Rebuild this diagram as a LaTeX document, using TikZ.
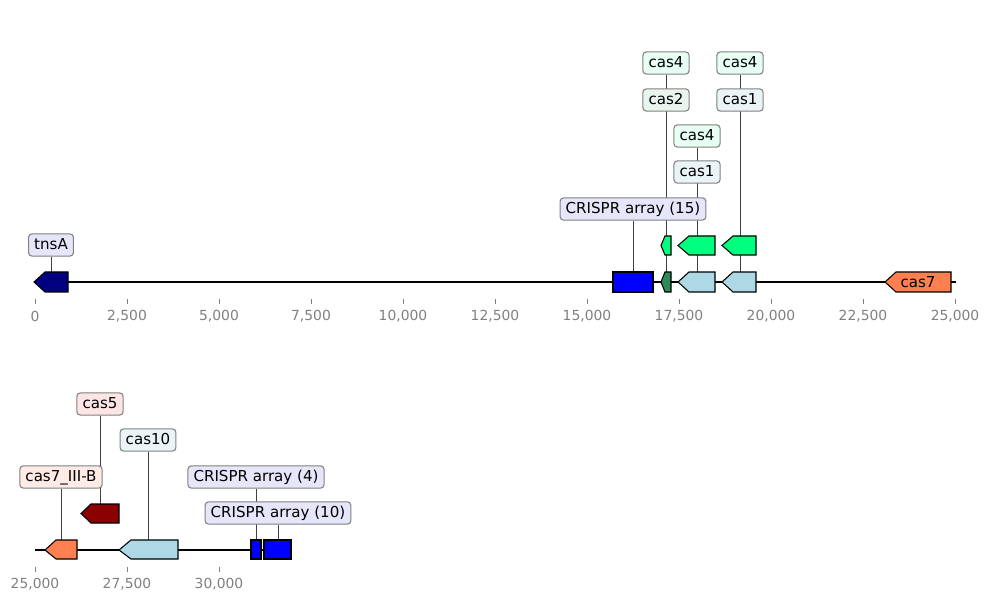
\documentclass[tikz,border=0pt]{standalone}
\usepackage{fontspec}
\setmainfont{DejaVu Sans}
\usetikzlibrary{backgrounds}
\definecolor{navyf}{HTML}{000080}
\definecolor{bluef}{HTML}{0000FF}
\definecolor{seaf}{HTML}{2E8B57}
\definecolor{lbluef}{HTML}{ADD8E6}
\definecolor{springf}{HTML}{00FF7F}
\definecolor{coralf}{HTML}{FF7F50}
\definecolor{redf}{HTML}{8B0000}
\definecolor{boxnavy}{HTML}{E6E6FA}
\definecolor{boxspring}{HTML}{E6FFF2}
\definecolor{boxsea}{HTML}{E9F4EE}
\definecolor{boxlblue}{HTML}{EAF4F7}
\definecolor{boxcoral}{HTML}{FFEBE5}
\definecolor{boxred}{HTML}{FDE5E5}

\begin{document}
\begin{tikzpicture}[x=0.75pt, y=0.75pt, yscale=-1,
    font=\fontsize{11.3}{13}\selectfont,
    feat/.style={draw=black, line width=0.8pt, line join=miter},
    lbl/.style={draw=gray, rounded corners=2.5pt, line width=0.8pt, inner xsep=4.2pt, inner ysep=3pt, text height=8.4pt, text depth=2.2pt},
    leader/.style={draw=black!75, line width=0.6pt},
    tickmark/.style={draw=gray, line width=0.6pt},
    ticklbl/.style={text=gray, font=\fontsize{10.4}{12}\selectfont}]
    \useasboundingbox (0,0) rectangle (989,602);

    % top track
    \draw [line width=1.5pt] (35,282) -- (956,282);
    \foreach \i/\t in {0/0, 1/{2,500}, 2/{5,000}, 3/{7,500}, 4/{10,000}, 5/{12,500}, 6/{15,000}, 7/{17,500}, 8/{20,000}, 9/{22,500}, 10/{25,000}} {
        \draw [tickmark] (35+92*\i,299) -- (35+92*\i,304) ;
        \node [ticklbl] (tt\i) at (35+92*\i,316) {\t} ;
    }

    \coordinate (tnsA) at (51,272);
    \coordinate (crA) at (633,272);
    \coordinate (casD) at (666,272);
    \coordinate (casE) at (666,236);
    \coordinate (casF) at (697,272);
    \coordinate (casG) at (697,236);
    \coordinate (casH) at (740,272);
    \coordinate (casI) at (740,236);

    \node [lbl, fill=boxnavy] (tnsAlbl) at (51,245) {tnsA} ;
    \node [lbl, fill=boxnavy] (crAlbl) at (633,209) {CRISPR array (15)} ;
    \node [lbl, fill=boxlblue] (casFlbl) at (697,172) {cas1} ;
    \node [lbl, fill=boxspring] (casGlbl) at (697,136) {cas4} ;
    \node [lbl, fill=boxsea] (casDlbl) at (666,100) {cas2} ;
    \node [lbl, fill=boxspring] (casElbl) at (666,63) {cas4} ;
    \node [lbl, fill=boxlblue] (casHlbl) at (740,100) {cas1} ;
    \node [lbl, fill=boxspring] (casIlbl) at (740,63) {cas4} ;

    \begin{scope}[on background layer]
    \draw [leader] (tnsAlbl) -- (tnsA) ;
    \draw [leader] (crAlbl) -- (crA) ;
    \draw [leader] (casDlbl) -- (casD) ;
    \draw [leader] (casElbl) -- (casE) ;
    \draw [leader] (casFlbl) -- (casF) ;
    \draw [leader] (casGlbl) -- (casG) ;
    \draw [leader] (casHlbl) -- (casH) ;
    \draw [leader] (casIlbl) -- (casI) ;
    \end{scope}

    \draw [feat, fill=navyf] (34,282) -- (45,272) -- (68,272) -- (68,292) -- (45,292) -- cycle ;
    \draw [feat, fill=bluef] (613,272) rectangle (653,292) ;
    \draw [feat, fill=seaf] (661,282) -- (665,272) -- (671,272) -- (671,292) -- (665,292) -- cycle ;
    \draw [feat, fill=lbluef] (678,282) -- (689,272) -- (715,272) -- (715,292) -- (689,292) -- cycle ;
    \draw [feat, fill=lbluef] (722,282) -- (733,272) -- (756,272) -- (756,292) -- (733,292) -- cycle ;
    \draw [feat, fill=coralf] (885,282) -- (896,272) -- (951,272) -- (951,292) -- (896,292) -- cycle ;
    \node (cas7) at (918,282) {cas7} ;
    \draw [feat, fill=springf] (661,245.5) -- (665,236) -- (671,236) -- (671,255) -- (665,255) -- cycle ;
    \draw [feat, fill=springf] (678,245.5) -- (689,236) -- (715,236) -- (715,255) -- (689,255) -- cycle ;
    \draw [feat, fill=springf] (722,245.5) -- (733,236) -- (756,236) -- (756,255) -- (733,255) -- cycle ;

    % bottom track
    \draw [line width=1.5pt] (35,550) -- (291,550);
    \foreach \i/\t in {0/{25,000}, 1/{27,500}, 2/{30,000}} {
        \draw [tickmark] (35+92*\i,567) -- (35+92*\i,572) ;
        \node [ticklbl] (bt\i) at (35+92*\i,584) {\t} ;
    }

    \coordinate (casJ) at (61,540);
    \coordinate (casK) at (100,504);
    \coordinate (casL) at (148,540);
    \coordinate (crB) at (256,540);
    \coordinate (crC) at (278,540);

    \node [lbl, fill=boxred] (casKlbl) at (100,404) {cas5} ;
    \node [lbl, fill=boxlblue] (casLlbl) at (148,440) {cas10} ;
    \node [lbl, fill=boxcoral] (casJlbl) at (61,477) {cas7\_III-B} ;
    \node [lbl, fill=boxnavy] (crBlbl) at (256,477) {CRISPR array (4)} ;
    \node [lbl, fill=boxnavy] (crClbl) at (278,513) {CRISPR array (10)} ;

    \begin{scope}[on background layer]
    \draw [leader] (casKlbl) -- (casK) ;
    \draw [leader] (casLlbl) -- (casL) ;
    \draw [leader] (casJlbl) -- (casJ) ;
    \draw [leader] (crBlbl) -- (crB) ;
    \draw [leader] (crClbl) -- (crC) ;
    \end{scope}

    \draw [feat, fill=coralf] (45,550) -- (56,540) -- (77,540) -- (77,559) -- (56,559) -- cycle ;
    \draw [feat, fill=redf] (81,513.5) -- (91,504) -- (119,504) -- (119,523) -- (91,523) -- cycle ;
    \draw [feat, fill=lbluef] (119,550) -- (131,540) -- (178,540) -- (178,559) -- (131,559) -- cycle ;
    \draw [feat, fill=bluef] (251,540) rectangle (261,559) ;
    \draw [feat, fill=bluef] (264,540) rectangle (291,559) ;
\end{tikzpicture}
\end{document}
